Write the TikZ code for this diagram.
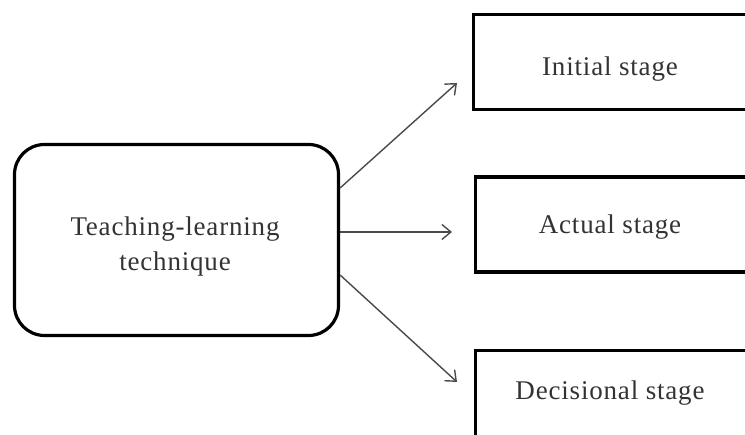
\documentclass[tikz,border=0pt]{standalone}
\usepackage{fontspec}
\setmainfont{Liberation Serif}[LetterSpace=3]
\usetikzlibrary{arrows.meta}
\definecolor{txt}{HTML}{333333}
\definecolor{arr}{HTML}{4A4A4A}
\begin{document}
\begin{tikzpicture}[x=1pt,y=1pt,
  mainbox/.style={draw=black,line width=3.2pt,rounded corners=30pt,minimum width=324pt,minimum height=191pt,inner sep=0pt},
  stagebox/.style={draw=black,line width=3.5pt,minimum width=300pt,minimum height=95pt,inner sep=0pt,anchor=west},
  lbl/.style={text=txt,font=\fontsize{27}{35}\selectfont,align=center,inner sep=0pt},
  conn/.style={draw=arr,line width=1.4pt,-{Straight Barb[length=9pt,width=15pt,line width=1.4pt]}}]
\useasboundingbox (0,0) rectangle (745,435);
\clip (0,0) rectangle (745,435);
\node[mainbox] (main) at (176.5,195) {};
\node[lbl] (mainlbl) at (175,188) {Teaching-learning\\technique};
\node[stagebox] (s1) at (471.5,373) {};
\node[stagebox] (s2) at (473.5,210.5) {};
\node[stagebox] (s3) at (473.5,37) {};
\node[lbl] (l1) at (610,366) {Initial stage};
\node[lbl] (l2) at (610,208) {Actual stage};
\node[lbl] (l3) at (610,42) {Decisional stage};
\coordinate (e1) at (457,352);
\coordinate (e2) at (452,203);
\coordinate (e3) at (457,53);
\draw[conn] (main.east |- 0,247) -- (e1);
\draw[conn] (main.east |- 0,203) -- (e2);
\draw[conn] (main.east |- 0,160) -- (e3);
\end{tikzpicture}
\end{document}
